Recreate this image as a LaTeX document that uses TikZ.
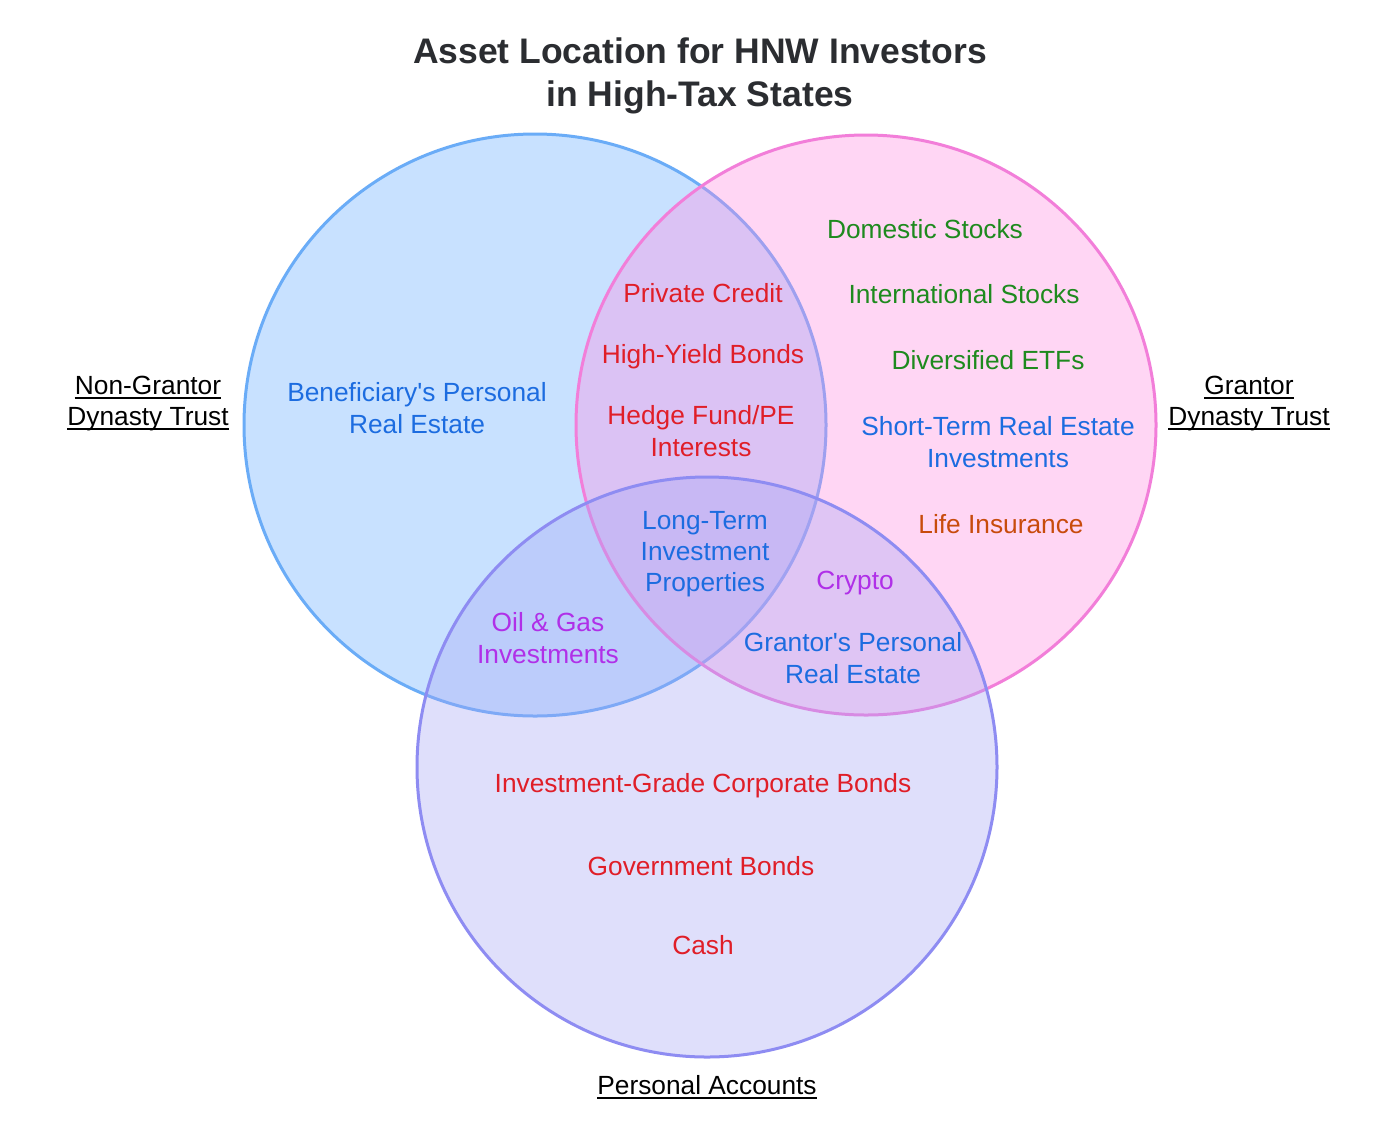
\documentclass[tikz,border=0pt]{standalone}
\usepackage{fontspec}
\setmainfont{Liberation Sans}
\definecolor{cL}{RGB}{100,170,255}
\definecolor{cR}{RGB}{255,138,226}
\definecolor{cB}{RGB}{166,166,246}
\definecolor{bL}{RGB}{106,172,247}
\definecolor{bR}{RGB}{242,126,217}
\definecolor{bB}{RGB}{142,140,242}
\definecolor{tBlue}{RGB}{28,108,224}
\definecolor{tRed}{RGB}{224,30,40}
\definecolor{tGreen}{RGB}{30,138,30}
\definecolor{tPurple}{RGB}{176,48,232}
\definecolor{tOrange}{RGB}{200,75,12}
\definecolor{tTitle}{RGB}{43,45,49}
\begin{document}
\begin{tikzpicture}[x=1pt,y=-1pt,
  every node/.style={inner sep=0pt},
  txt/.style={font=\fontsize{26.3}{31.3}\selectfont, align=center},
  lab/.style={font=\fontsize{26.3}{31.3}\selectfont, text=black},
  ttl/.style={font=\fontsize{35.5}{43}\selectfont\bfseries, align=center, text=tTitle},
  ul/.style={line width=1.8pt, black},
  setL/.style={fill=cL, draw=bL, fill opacity=0.35, draw opacity=1, line width=3pt},
  setR/.style={fill=cR, draw=bR, fill opacity=0.35, draw opacity=1, line width=3pt},
  setB/.style={fill=cB, draw=bB, fill opacity=0.35, draw opacity=1, line width=3pt}]
\useasboundingbox[fill=white] (0,0) rectangle (1378,1128);

% circles
\path[setL] (535,425) circle[radius=291];
\path[setR] (866,425) circle[radius=290];
\path[setB] (707,767) circle[radius=290];

% title
\node[ttl] (title) at (700,76) {Asset Location for HNW Investors\\in High-Tax States};

% set labels
\node[lab, anchor=base] (ng1) at (148,394) {Non-Grantor};
\node[lab, anchor=base] (ng2) at (148,425) {Dynasty Trust};
\node[lab, anchor=base] (g1) at (1249,394) {Grantor};
\node[lab, anchor=base] (g2) at (1249,425) {Dynasty Trust};
\node[lab, anchor=base] (pa) at (707,1094) {Personal Accounts};
\foreach \n in {ng1,ng2,g1,g2,pa}
  \draw[ul] ([yshift=-4pt]\n.base west) -- ([yshift=-4pt]\n.base east);

% left only
\node[txt, text=tBlue] (ben) at (417,408) {Beneficiary\textquotesingle s Personal\\Real Estate};

% left & right
\node[txt, text=tRed] (pc) at (703,293) {Private Credit};
\node[txt, text=tRed] (hy) at (703,357) {High-Yield Bonds};
\node[txt, text=tRed] (hf) at (701,431) {Hedge Fund/PE\\Interests};

% right only
\node[txt, text=tGreen] (ds) at (925,229) {Domestic Stocks};
\node[txt, text=tGreen] (is) at (964,294) {International Stocks};
\node[txt, text=tGreen] (etf) at (988,360) {Diversified ETFs};
\node[txt, text=tBlue] (st) at (998,442) {Short-Term Real Estate\\Investments};
\node[txt, text=tOrange] (li) at (1001,524) {Life Insurance};

% all three
\node[txt, text=tBlue] (lt) at (705,554) {Long-Term\\Investment\\Properties};

% right & bottom
\node[txt, text=tPurple] (cr) at (855,583) {Crypto};
\node[txt, text=tBlue] (gp) at (853,658) {Grantor\textquotesingle s Personal\\Real Estate};

% left & bottom
\node[txt, text=tPurple] (og) at (548,638) {Oil \& Gas\\Investments};

% bottom only
\node[txt, text=tRed] (ig) at (703,786) {Investment-Grade Corporate Bonds};
\node[txt, text=tRed] (gb) at (701,866) {Government Bonds};
\node[txt, text=tRed] (cash) at (703,945) {Cash};
\end{tikzpicture}
\end{document}
